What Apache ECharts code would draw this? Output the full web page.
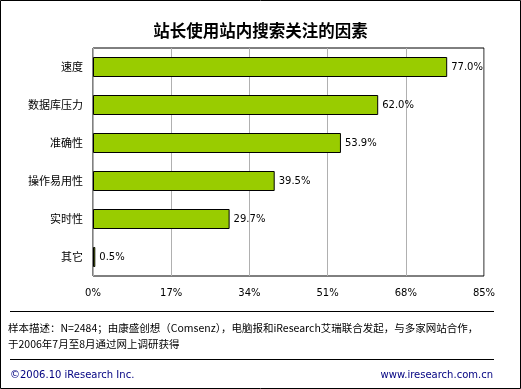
<!DOCTYPE html>
<html><head><meta charset="utf-8">
<script src="https://cdn.jsdelivr.net/npm/echarts@6/dist/echarts.min.js"></script>
<style>html,body{margin:0;padding:0;background:#fff}#c{width:521px;height:389px}</style>
</head><body><div id="c"></div>
<script>
const categories = ['速度','数据库压力','准确性','操作易用性','实时性','其它'];
const values = [77.0, 62.0, 53.9, 39.5, 29.7, 0.5];
const tickMax = 85;
const tickStep = 17;
const titleText = '站长使用站内搜索关注的因素';
const noteLine1 = '样本描述：N=2484；由康盛创想（Comsenz），电脑报和iResearch艾瑞联合发起，与多家网站合作，';
const noteLine2 = '于2006年7月至8月通过网上调研获得';
const footLeft = '©2006.10 iResearch Inc.';
const footRight = 'www.iresearch.com.cn';

const F = '"DejaVu Sans","Noto Sans CJK SC",sans-serif';
const chart = echarts.init(document.getElementById('c'));
chart.setOption({
  animation: false,
  backgroundColor: '#fff',
  title: {text: titleText, left: 'center', top: 17,
    textStyle: {fontFamily: '"Noto Sans CJK SC",sans-serif', fontSize: 16.5, fontWeight: 'bold', color: '#000'}},
  grid: {left: 93, top: 48, width: 391, height: 228, show: true, borderColor: '#000', borderWidth: 1, backgroundColor: '#fff'},
  xAxis: {type: 'value', min: 0, max: tickMax, interval: tickStep,
    axisLine: {show: false}, axisTick: {show: false},
    splitLine: {lineStyle: {color: '#b0b0b0'}},
    axisLabel: {formatter: '{value}%', fontFamily: F, fontSize: 10, color: '#000', margin: 12}},
  yAxis: {type: 'category', data: categories, inverse: true,
    axisLine: {show: false}, axisTick: {show: false},
    axisLabel: {fontFamily: '"Noto Sans CJK SC",sans-serif', fontSize: 11, color: '#000', margin: 10}},
  series: [{type: 'bar', data: values, barWidth: 20,
    itemStyle: {color: '#99cc00', borderColor: '#000', borderWidth: 1},
    label: {show: true, position: 'right', distance: 4, formatter: p => p.value.toFixed(1) + '%',
      fontFamily: F, fontSize: 10, color: '#000'}}],
  graphic: [
    {type: 'rect', shape: {x: 0.5, y: 0.5, width: 520, height: 388}, style: {fill: null, stroke: '#000', lineWidth: 1}, silent: true},
    {type: 'line', shape: {x1: 10, y1: 311.5, x2: 494, y2: 311.5}, style: {stroke: '#000', lineWidth: 1}},
    {type: 'text', left: 8, top: 323, style: {text: noteLine1, font: '10.5px "Noto Sans CJK SC",sans-serif', fill: '#000'}},
    {type: 'text', left: 8, top: 339, style: {text: noteLine2, font: '10.5px "Noto Sans CJK SC",sans-serif', fill: '#000'}},
    {type: 'line', shape: {x1: 10, y1: 359.5, x2: 494, y2: 359.5}, style: {stroke: '#000', lineWidth: 1}},
    {type: 'text', left: 10, top: 370, style: {text: footLeft, font: '10px ' + F, fill: '#000080'}},
    {type: 'text', right: 28, top: 370, style: {text: footRight, font: '10px ' + F, fill: '#000080'}}
  ]
});
</script></body></html>
